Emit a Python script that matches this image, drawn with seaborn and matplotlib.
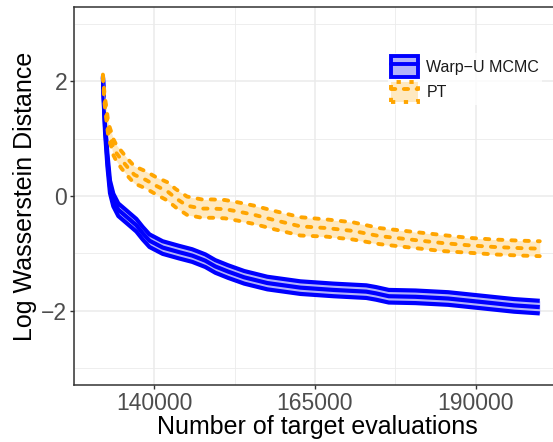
import numpy as np
import pandas as pd
import matplotlib
matplotlib.use("Agg")
import matplotlib.pyplot as plt
import seaborn as sns
from matplotlib.patches import Patch
from matplotlib.lines import Line2D

sns.set_theme(style="white")
plt.rcParams['font.family'] = ['Liberation Sans', 'DejaVu Sans']

# ---------------- data ----------------
warp_evals = [132000, 132150, 132330, 132700, 133100, 133620, 134400, 135650,
              137200, 138200, 139250, 141300, 143850, 145900, 147950, 149500,
              151500, 154000, 157600, 162750, 167900, 173000, 174500, 176500,
              180650, 185750, 190900, 196000, 200000]
warp_mean = [2.08, 1.65, 1.21, 0.63, 0.16, -0.07, -0.24, -0.36,
             -0.51, -0.65, -0.78, -0.90, -0.98, -1.04, -1.13, -1.23,
             -1.32, -1.42, -1.52, -1.60, -1.64, -1.67, -1.70, -1.75,
             -1.76, -1.79, -1.85, -1.91, -1.94]
warp_half = [0.02, 0.06, 0.09, 0.11, 0.11, 0.11, 0.11, 0.11,
             0.11, 0.11, 0.11, 0.11, 0.11, 0.11, 0.11, 0.11,
             0.11, 0.11, 0.11, 0.11, 0.11, 0.11, 0.11, 0.11,
             0.11, 0.11, 0.11, 0.11, 0.11]

pt_evals = [132000, 132250, 132600, 132850, 133350, 133600, 134100, 134900,
            136000, 136900, 138700, 140250, 142050, 143350, 145100, 147400,
            149000, 151000, 153000, 155600, 158650, 162750, 166850, 170950,
            175050, 180650, 184750, 188850, 192900, 197000, 200000]
pt_mean = [2.10, 1.70, 1.38, 1.15, 0.97, 0.86, 0.75, 0.63,
           0.48, 0.37, 0.28, 0.18, 0.08, -0.04, -0.17, -0.22,
           -0.22, -0.23, -0.27, -0.33, -0.42, -0.53, -0.56, -0.61,
           -0.70, -0.77, -0.82, -0.86, -0.89, -0.91, -0.92]
pt_half = [0.02, 0.08, 0.11, 0.12, 0.13, 0.14, 0.14, 0.15,
           0.15, 0.15, 0.15, 0.15, 0.16, 0.16, 0.16, 0.16,
           0.16, 0.16, 0.16, 0.16, 0.16, 0.16, 0.15, 0.15,
           0.14, 0.14, 0.14, 0.13, 0.13, 0.13, 0.13]

series_names = ["Warp\u2212U MCMC", "PT"]
x_ticks = [140000, 165000, 190000]
y_ticks = [-2, 0, 2]

# ---------------- plot ----------------
fig = plt.figure(figsize=(5.53, 4.42), dpi=100)
ax = fig.add_axes([74 / 553, 57 / 442, 487.6 / 553, 378 / 442])

blue = "#0000FF"
blue_fill = "#B3B3FA"
orange = "#FFA500"
orange_fill = "#FFE9C0"
dash = (0, (1.1, 2.3))

# grid
ax.set_xlim(128600, 203400)
ax.set_ylim(-3.3, 3.3)
ax.set_xticks(x_ticks)
ax.set_yticks(y_ticks)
ax.set_xticks([127500, 152500, 177500, 202500], minor=True)
ax.set_yticks([-3, -1, 1, 3], minor=True)
ax.grid(True, which="major", color="#EBEBEB", linewidth=1.1)
ax.grid(True, which="minor", color="#EBEBEB", linewidth=0.6)
ax.set_axisbelow(True)

# Warp-U ribbon
wx = np.array(warp_evals, dtype=float)
wm = np.array(warp_mean); wh = np.array(warp_half)
ax.fill_between(wx, wm - wh, wm + wh, color=blue_fill, linewidth=0, zorder=2)
for yy in (wm - wh, wm + wh, wm):
    sns.lineplot(x=wx, y=yy, ax=ax, color=blue, linewidth=3.0, sort=False,
                 estimator=None, zorder=3, solid_capstyle="butt",
                 solid_joinstyle="round")

# PT ribbon
px = np.array(pt_evals, dtype=float)
pm = np.array(pt_mean); ph = np.array(pt_half)
ax.fill_between(px, pm - ph, pm + ph, color=orange_fill, linewidth=0, zorder=4)
for yy in (pm - ph, pm + ph, pm):
    sns.lineplot(x=px, y=yy, ax=ax, color=orange, linewidth=2.8, sort=False,
                 estimator=None, zorder=5, linestyle=dash,
                 dash_capstyle="round")

# axes styling
for side in ["left", "bottom", "top", "right"]:
    ax.spines[side].set_visible(True)
    ax.spines[side].set_color("#333333")
    ax.spines[side].set_linewidth(1.1)
ax.tick_params(axis="both", which="major", length=2.75, width=1.0,
               color="#333333", labelsize=16.5, labelcolor="#4D4D4D",
               direction="out", pad=2.2, bottom=True, left=True)
ax.tick_params(axis="both", which="minor", length=0)
ax.set_xlabel("Number of target evaluations", fontsize=18, color="black",
              labelpad=0)
ax.set_ylabel("Log Wasserstein Distance", fontsize=18, color="black",
              labelpad=3)

# legend
h_warp = (Patch(facecolor=blue_fill, edgecolor=blue, linewidth=2.8),
          Line2D([], [], color=blue, linewidth=2.8))
h_pt = (Patch(facecolor=orange_fill, edgecolor=orange, linewidth=2.8,
              linestyle=(0, (1.1, 2.2))),
        Line2D([], [], color=orange, linewidth=2.8, linestyle=(0, (1.1, 2.2)),
               dash_capstyle="round"))
leg = ax.legend([h_warp, h_pt], series_names, loc="upper left",
                bbox_to_anchor=(314 / 487.6, 1 - 46 / 378), frameon=True,
                fontsize=11.5, handlelength=1.65, handleheight=1.6,
                handletextpad=0.55, labelspacing=0.3, borderpad=0.2,
                borderaxespad=0)
leg.get_frame().set_edgecolor("white")
leg.get_frame().set_facecolor("white")
leg.get_frame().set_linewidth(0)
leg.get_frame().set_boxstyle("square", pad=0)
for t in leg.get_texts():
    t.set_color("#1A1A1A")

fig.savefig("out.png", dpi=100)
